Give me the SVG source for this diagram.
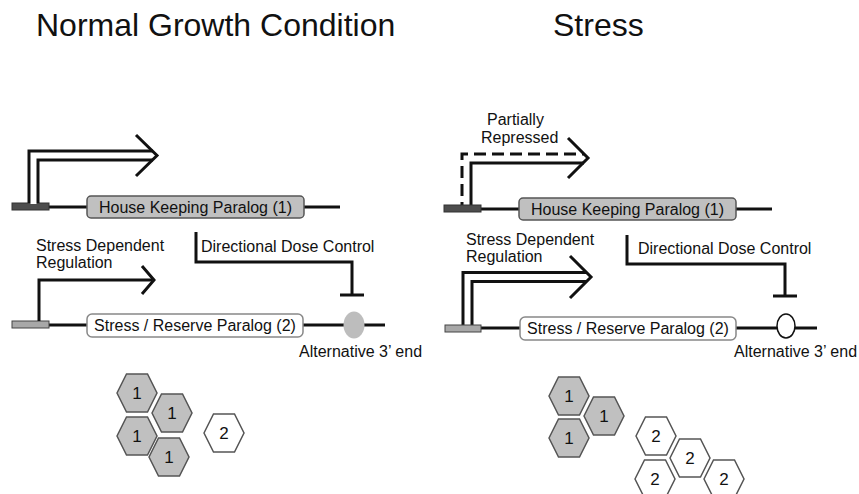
<svg xmlns="http://www.w3.org/2000/svg" xmlns:xlink="http://www.w3.org/1999/xlink" width="859" height="494" viewBox="0 0 859 494">
<style>
text{font-family:"Liberation Sans",Arial,sans-serif;fill:#111}
.title{font-size:32px}
.lbl{font-size:16px}
.dna{stroke:#111;stroke-width:3;fill:none}
.ln{stroke:#111;stroke-width:3;fill:none}
.dbl-o{stroke:#111;stroke-width:12;fill:none;stroke-linejoin:miter}
.dbl-i{stroke:#fff;stroke-width:6;fill:none;stroke-linejoin:miter}
.prom-d{fill:#4d4d4d;stroke:#333;stroke-width:1}
.prom-l{fill:#a8a8a8;stroke:#444;stroke-width:1}
.hk{fill:#c0c0c0;stroke:#555;stroke-width:1.5}
.sr{fill:#fff;stroke:#888;stroke-width:1.5}
.hexg{fill:#c0c0c0;stroke:#555;stroke-width:1.5}
.hexw{fill:#fff;stroke:#555;stroke-width:1.5}
.hl{font-size:17px;text-anchor:middle}
</style>
<defs>
<polygon id="hex" points="-20,0 -10.5,-19 10.5,-19 20,0 10.5,19 -10.5,19"/>
</defs>

<text class="title" x="36" y="36">Normal Growth Condition</text>
<text class="title" x="553" y="36">Stress</text>

<!-- LEFT PANEL -->
<g id="left-dna1">
<line class="dna" x1="12" y1="207" x2="340" y2="207"/>
<rect class="prom-d" x="12" y="203" width="37" height="7"/>
<rect class="hk" x="87" y="196" width="217" height="22" rx="4"/>
<text class="lbl" x="195.5" y="213" text-anchor="middle">House Keeping Paralog (1)</text>
</g>
<g id="left-dna2">
<line class="dna" x1="12" y1="325" x2="385" y2="325"/>
<rect class="prom-l" x="12" y="321" width="37" height="7"/>
<rect class="sr" x="87" y="314" width="216" height="23" rx="5"/>
<text class="lbl" x="195" y="331" text-anchor="middle">Stress / Reserve Paralog (2)</text>
<ellipse cx="354" cy="325" rx="10.5" ry="13.5" fill="#bdbdbd"/>
</g>

<g id="connectors">
<!-- left top double arrow -->
<path class="dbl-o" d="M33.5,203 V155.5 H153"/>
<path class="dbl-i" d="M33.5,204 V155.5 H154"/>
<path class="ln" d="M136,135 L157,155.5 L136,176"/>
<!-- left lower single arrow -->
<path class="ln" d="M39,321 V280 H152"/>
<path class="ln" d="M142,266 L154,280 L142,294"/>
<!-- left dose control -->
<path class="ln" d="M196,232 V262 H352 V295"/>
<path class="ln" d="M340,295 H364"/>

<!-- right top dashed/solid arrow -->
<path class="ln" d="M462,205 V154 H584" stroke-dasharray="12 6" stroke-dashoffset="9"/>
<path class="ln" d="M471,205 V163 H584"/>
<path class="ln" d="M568,138 L588,158 L568,178"/>
<!-- right lower double arrow -->
<path class="dbl-o" d="M467.5,325 V277 H587"/>
<path class="dbl-i" d="M467.5,326 V277 H588"/>
<path class="ln" d="M570,256 L591,277 L570,298"/>
<!-- right dose control -->
<path class="ln" d="M627,235 V264 H785 V296"/>
<path class="ln" d="M773,296 H797"/>
</g>

<g id="left-labels">
<text class="lbl" x="36" y="251">Stress Dependent</text>
<text class="lbl" x="36" y="268">Regulation</text>
<text class="lbl" x="201" y="252">Directional Dose Control</text>
<text class="lbl" x="299" y="357">Alternative 3’ end</text>
</g>

<!-- RIGHT PANEL -->
<g id="right-dna1">
<line class="dna" x1="444" y1="209" x2="772" y2="209"/>
<rect class="prom-d" x="444" y="205" width="37" height="7"/>
<rect class="hk" x="519" y="198" width="217" height="22" rx="4"/>
<text class="lbl" x="627.5" y="215" text-anchor="middle">House Keeping Paralog (1)</text>
</g>
<g id="right-dna2">
<line class="dna" x1="445" y1="328" x2="817" y2="328"/>
<rect class="prom-l" x="445" y="325" width="36" height="7"/>
<rect class="sr" x="520" y="317" width="216" height="23" rx="5"/>
<text class="lbl" x="628" y="334" text-anchor="middle">Stress / Reserve Paralog (2)</text>
<ellipse cx="786" cy="326" rx="9" ry="12" fill="#fff" stroke="#111" stroke-width="1.5"/>
</g>
<g id="right-labels">
<text class="lbl" x="487" y="125">Partially</text>
<text class="lbl" x="481" y="143">Repressed</text>
<text class="lbl" x="466" y="245">Stress Dependent</text>
<text class="lbl" x="466" y="262">Regulation</text>
<text class="lbl" x="638" y="254">Directional Dose Control</text>
<text class="lbl" x="734" y="357">Alternative 3’ end</text>
</g>

<!-- HEXAGONS LEFT -->
<g id="hexL1"><use xlink:href="#hex" href="#hex" class="hexg" x="137" y="393"/><text class="hl" x="137" y="399">1</text></g>
<g id="hexL2"><use xlink:href="#hex" href="#hex" class="hexg" x="172" y="413"/><text class="hl" x="172" y="419">1</text></g>
<g id="hexL3"><use xlink:href="#hex" href="#hex" class="hexg" x="137" y="436"/><text class="hl" x="137" y="442">1</text></g>
<g id="hexL4"><use xlink:href="#hex" href="#hex" class="hexg" x="169" y="457"/><text class="hl" x="169" y="463">1</text></g>
<g id="hexL5"><use xlink:href="#hex" href="#hex" class="hexw" x="224" y="433"/><text class="hl" x="224" y="439">2</text></g>

<!-- HEXAGONS RIGHT -->
<g id="hexR1"><use xlink:href="#hex" href="#hex" class="hexg" x="569" y="396"/><text class="hl" x="569" y="402">1</text></g>
<g id="hexR2"><use xlink:href="#hex" href="#hex" class="hexg" x="604" y="416"/><text class="hl" x="604" y="422">1</text></g>
<g id="hexR3"><use xlink:href="#hex" href="#hex" class="hexg" x="569" y="438"/><text class="hl" x="569" y="444">1</text></g>
<g id="hexR4"><use xlink:href="#hex" href="#hex" class="hexw" x="656" y="436"/><text class="hl" x="656" y="442">2</text></g>
<g id="hexR5"><use xlink:href="#hex" href="#hex" class="hexw" x="690" y="458"/><text class="hl" x="690" y="464">2</text></g>
<g id="hexR6"><use xlink:href="#hex" href="#hex" class="hexw" x="655" y="479"/><text class="hl" x="655" y="485">2</text></g>
<g id="hexR7"><use xlink:href="#hex" href="#hex" class="hexw" x="724" y="479"/><text class="hl" x="724" y="485">2</text></g>
</svg>
